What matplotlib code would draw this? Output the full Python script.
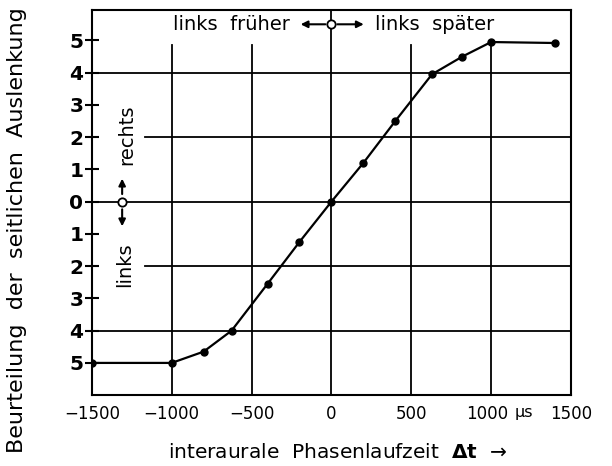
import numpy as np
import matplotlib.pyplot as plt
from matplotlib.transforms import ScaledTranslation

# Daten: interaurale Phasenlaufzeit (µs) und seitliche Auslenkung
delta_t = [-1500, -1000, -800, -625, -400, -200, 0, 200, 400, 630, 820, 1000, 1400]
auslenkung = [-5, -5, -4.65, -4, -2.55, -1.25, 0, 1.2, 2.5, 3.95, 4.5, 4.95, 4.92]

x_ticks = [-1500, -1000, -500, 0, 500, 1000, 1500]
x_labels = ['\u22121500', '\u22121000', '\u2212500', '0', '500', '1000', '1500']
y_ticks = [5, 4, 3, 2, 1, 0, -1, -2, -3, -4, -5]
y_labels = [str(abs(v)) for v in y_ticks]

plt.rcParams['font.family'] = 'DejaVu Sans'

fig = plt.figure(figsize=(6.12, 4.66), dpi=100)
ax = fig.add_axes([0.150, 0.152, 0.783, 0.827])

ax.set_xlim(-1500, 1500)
ax.set_ylim(-6, 5.95)

# Gitter (teilweise unterbrochen wegen Beschriftung)
for xv in [-1000, -500, 500, 1000]:
    ax.plot([xv, xv], [-6, 4.85], color='black', lw=1.3, zorder=1)
ax.plot([0, 0], [-6, 5.95], color='black', lw=1.3, zorder=1)
for yv in [4, 0, -4]:
    ax.plot([-1500, 1500], [yv, yv], color='black', lw=1.3, zorder=1)
for yv in [2, -2]:
    ax.plot([-1170, 1500], [yv, yv], color='black', lw=1.3, zorder=1)

# Kurve
ax.plot(delta_t, auslenkung, color='black', lw=1.6, marker='o', ms=5, zorder=3)

# Achsen
for s in ax.spines.values():
    s.set_linewidth(1.5)
ax.set_xticks(x_ticks)
ax.set_xticklabels(x_labels, fontsize=12)
ax.tick_params(axis='x', length=0, pad=7)
ax.set_yticks(y_ticks)
ax.set_yticklabels(y_labels, fontsize=14.5, fontweight='bold')
ax.tick_params(axis='y', direction='inout', length=10, width=1.5, pad=1)

# "1000" etwas nach links, Platz fuer die Einheit
lbl_1000 = ax.get_xticklabels()[5]
lbl_1000.set_transform(lbl_1000.get_transform() + ScaledTranslation(-4 / 100, 0, fig.dpi_scale_trans))

ax.annotate('µs', xy=(1205, 0), xycoords=('data', 'axes fraction'),
            xytext=(0, -7), textcoords='offset points',
            fontsize=11.5, ha='center', va='top')

# obere Beschriftung
ax.text(-260, 5.5, 'links  früher', fontsize=14, ha='right', va='center')
ax.text(270, 5.5, 'links  später', fontsize=14, ha='left', va='center')
ax.annotate('', xy=(-210, 5.5), xytext=(-20, 5.5),
            arrowprops=dict(arrowstyle='-|>', color='black', lw=1.5, mutation_scale=10))
ax.annotate('', xy=(220, 5.5), xytext=(20, 5.5),
            arrowprops=dict(arrowstyle='-|>', color='black', lw=1.5, mutation_scale=10))
ax.plot([0], [5.5], marker='o', ms=6, mfc='white', mec='black', mew=1.3, zorder=4)

# linke Beschriftung
ax.text(-1280, 1.15, 'rechts', fontsize=14, rotation=90, ha='center', va='bottom')
ax.text(-1295, -1.25, 'links', fontsize=14, rotation=90, ha='center', va='top')
ax.annotate('', xy=(-1310, 0.8), xytext=(-1310, 0.15),
            arrowprops=dict(arrowstyle='-|>', color='black', lw=1.5, mutation_scale=10))
ax.annotate('', xy=(-1310, -0.85), xytext=(-1310, -0.15),
            arrowprops=dict(arrowstyle='-|>', color='black', lw=1.5, mutation_scale=10))
ax.plot([-1310], [0], marker='o', ms=6, mfc='white', mec='black', mew=1.3, zorder=4)

fig.text(0.027, 0.506, 'Beurteilung  der  seitlichen  Auslenkung', fontsize=16,
         rotation=90, ha='center', va='center')
fig.text(0.551, 0.03, 'interaurale  Phasenlaufzeit  $\\mathbf{\\Delta t}$  \u2192',
         fontsize=14.5, ha='center', va='center')

fig.savefig('out.png', dpi=100)
